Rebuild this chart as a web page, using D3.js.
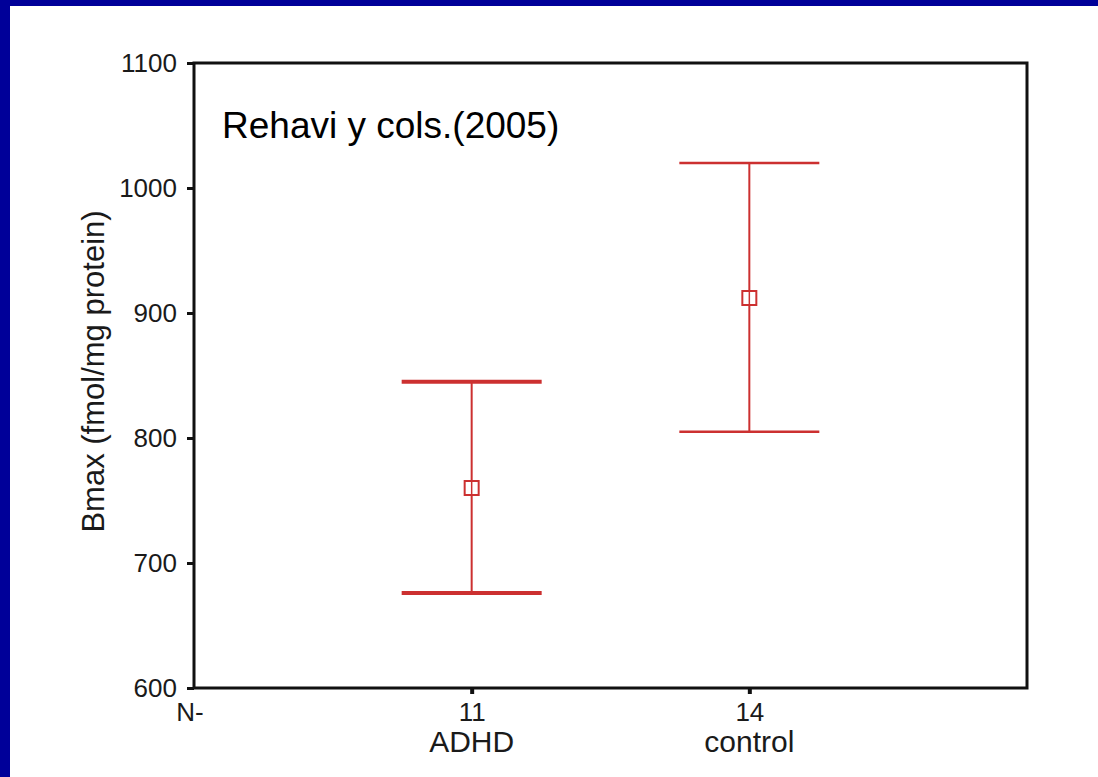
<!DOCTYPE html>
<html>
<head>
<meta charset="utf-8">
<script src="https://cdn.jsdelivr.net/npm/d3@7"></script>
<style>
  body { margin: 0; background: #fff; }
  svg { display: block; font-family: "Liberation Sans", Arial, sans-serif; }
</style>
</head>
<body>
<svg></svg>
<script>
// data
const groups = ["ADHD", "control"];
const counts = ["11", "14"];
const means = [760, 912];
const upper = [845, 1020];
const lower = [676, 805];
const yTicks = [600, 700, 800, 900, 1000, 1100];

/*
 * Viz constants
 */
const SVG_WIDTH = 1098;
const SVG_HEIGHT = 777;
const PLOT_LEFT = 194;
const PLOT_RIGHT = 1027;
const PLOT_TOP = 63;
const PLOT_BOTTOM = 688;
const RED = "#cc3030";
const BLUE = "#000099";
const INK = "#1a1a1a";
const CAP_HALF = 70;
const CAP_STROKE = [4, 2.5];

const svg = d3.select("svg")
  .attr("width", SVG_WIDTH)
  .attr("height", SVG_HEIGHT);

// slide frame
svg.append("rect").attr("width", SVG_WIDTH).attr("height", SVG_HEIGHT).attr("fill", "#fff");
svg.append("rect").attr("x", 0).attr("y", 0).attr("width", SVG_WIDTH).attr("height", 6).attr("fill", BLUE);
svg.append("rect").attr("x", 0).attr("y", 0).attr("width", 10).attr("height", SVG_HEIGHT).attr("fill", BLUE);

// scales: slot 0 holds the "N" label, groups sit at 1 and 2
const x = d3.scaleLinear().domain([0, groups.length + 1]).range([PLOT_LEFT, PLOT_RIGHT]);
const y = d3.scaleLinear().domain([600, 1100]).range([PLOT_BOTTOM, PLOT_TOP]);

// y axis
const yAxis = svg.append("g")
  .attr("transform", `translate(${PLOT_LEFT},0)`)
  .call(d3.axisLeft(y).tickValues(yTicks).tickFormat(d3.format("d")).tickSize(7).tickPadding(10));
yAxis.select(".domain").remove();
yAxis.selectAll(".tick line").attr("stroke", "#111").attr("stroke-width", 3);
yAxis.selectAll(".tick text")
  .attr("font-size", 26)
  .attr("fill", INK)
  .attr("font-family", "Liberation Sans, Arial, sans-serif");

// x axis with N counts
const xAxis = svg.append("g")
  .attr("transform", `translate(0,${PLOT_BOTTOM})`)
  .call(d3.axisBottom(x)
    .tickValues(groups.map((g, i) => i + 1))
    .tickFormat((d) => counts[d - 1])
    .tickSize(6)
    .tickPadding(9));
xAxis.select(".domain").remove();
xAxis.selectAll(".tick line").attr("stroke", "#111").attr("stroke-width", 4);
xAxis.selectAll(".tick text")
  .attr("font-size", 26)
  .attr("fill", INK)
  .attr("font-family", "Liberation Sans, Arial, sans-serif");

// group names under the counts
svg.selectAll(".grp")
  .data(groups)
  .enter()
  .append("text")
  .attr("class", "grp")
  .attr("x", (d, i) => x(i + 1))
  .attr("y", PLOT_BOTTOM + 64)
  .attr("text-anchor", "middle")
  .attr("font-size", 30)
  .attr("fill", INK)
  .text((d) => d);

svg.append("text")
  .attr("x", x(0) - 4)
  .attr("y", PLOT_BOTTOM + 33)
  .attr("text-anchor", "middle")
  .attr("font-size", 26)
  .attr("fill", INK)
  .text("N-");

// plot frame
svg.append("rect")
  .attr("x", PLOT_LEFT)
  .attr("y", PLOT_TOP)
  .attr("width", PLOT_RIGHT - PLOT_LEFT)
  .attr("height", PLOT_BOTTOM - PLOT_TOP)
  .attr("fill", "none")
  .attr("stroke", "#111")
  .attr("stroke-width", 3);

// y title
svg.append("text")
  .attr("transform", `translate(104,${(PLOT_TOP + PLOT_BOTTOM) / 2 - 4}) rotate(-90)`)
  .attr("text-anchor", "middle")
  .attr("font-size", 31)
  .attr("fill", INK)
  .text("Bmax (fmol/mg protein)");

// annotation
svg.append("text")
  .attr("x", 222)
  .attr("y", 138)
  .attr("font-size", 37)
  .attr("fill", "#000")
  .text("Rehavi y cols.(2005)");

// error bars
const bars = svg.append("g");
groups.forEach((g, i) => {
  const cx = x(i + 1);
  bars.append("line")
    .attr("x1", cx).attr("x2", cx)
    .attr("y1", y(upper[i])).attr("y2", y(lower[i]))
    .attr("stroke", RED).attr("stroke-width", 2);
  [upper[i], lower[i]].forEach((v) => {
    bars.append("line")
      .attr("x1", cx - CAP_HALF).attr("x2", cx + CAP_HALF)
      .attr("y1", y(v)).attr("y2", y(v))
      .attr("stroke", RED).attr("stroke-width", CAP_STROKE[i]);
  });
  bars.append("rect")
    .attr("x", cx - 7).attr("y", y(means[i]) - 7)
    .attr("width", 14).attr("height", 14)
    .attr("fill", "#fff")
    .attr("stroke", RED).attr("stroke-width", 2);
  bars.append("line")
    .attr("x1", cx).attr("x2", cx)
    .attr("y1", y(means[i]) - 6).attr("y2", y(means[i]) + 6)
    .attr("stroke", RED).attr("stroke-width", 1.5);
});
</script>
</body>
</html>
